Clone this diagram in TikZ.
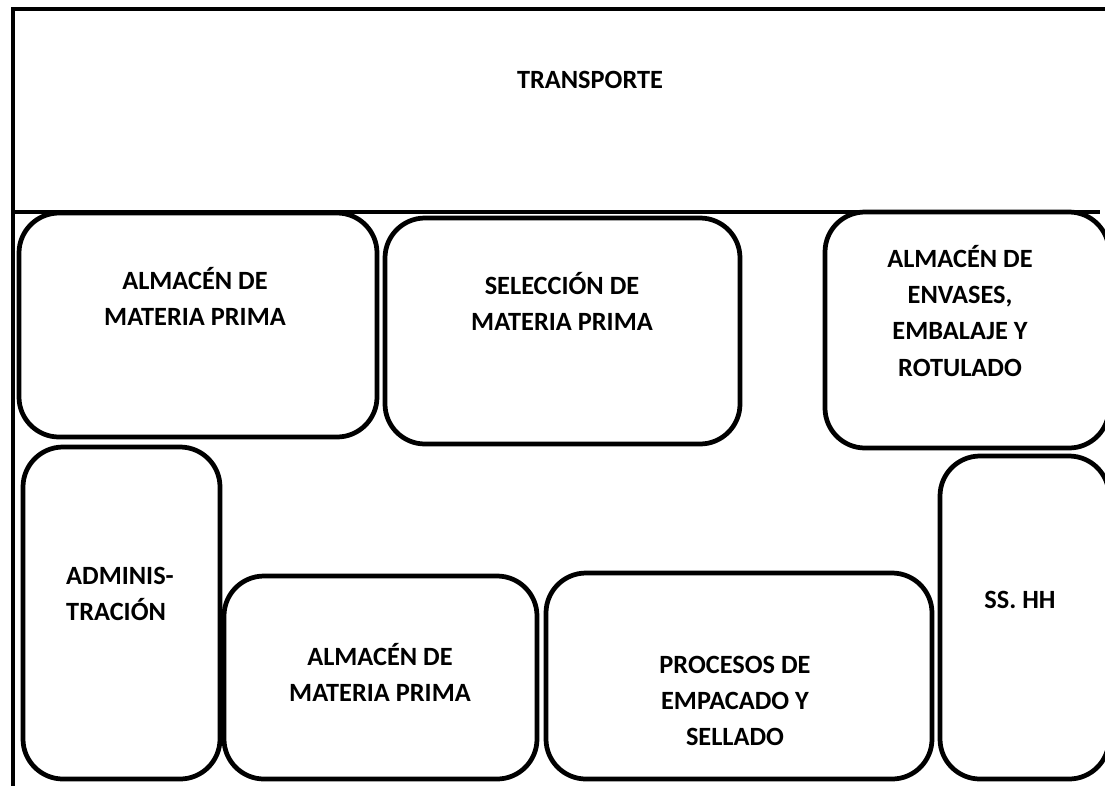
\documentclass[tikz,border=0pt]{standalone}
\usepackage{fontspec}
\setmainfont{Carlito}

\begin{document}
\begin{tikzpicture}[x=0.02cm,y=-0.02cm,
    room/.style={line width=2.7pt,rounded corners=0.8cm},
    wall/.style={line width=2.7pt},
    roomlabel/.style={font=\fontsize{15}{20.5}\selectfont\bfseries,align=center}]
  \useasboundingbox (0,0) rectangle (1105,785);
  \clip (0,0) rectangle (1105,785);
  % outer walls
  \draw[wall] (1110,9) -- (13,9) -- (13,790);
  \draw[wall] (13,212) -- (1100,212);
  % rooms
  \draw[room] (19,213) rectangle (377,437);
  \draw[room] (385,218) rectangle (740,444);
  \draw[room] (825,212) rectangle (1109,448);
  \draw[room] (23,447) rectangle (220,779);
  \draw[room] (224,576) rectangle (537,779);
  \draw[room] (546,573) rectangle (932,779);
  \draw[room] (940,456) rectangle (1109,779);
  % labels
  \node[roomlabel] (trans) at (590,80) {TRANSPORTE};
  \node[roomlabel] (almmp) at (195,296) {ALMACÉN DE\\MATERIA PRIMA};
  \node[roomlabel] (selec) at (562,301) {SELECCIÓN DE\\MATERIA PRIMA};
  \node[roomlabel] (envas) at (960,311) {ALMACÉN DE\\ENVASES,\\EMBALAJE Y\\ROTULADO};
  \node[roomlabel,align=left,anchor=west] (admin) at (60,594) {ADMINIS-\\TRACIÓN};
  \node[roomlabel] (almmp2) at (380,672) {ALMACÉN DE\\MATERIA PRIMA};
  \node[roomlabel] (proce) at (735,701) {PROCESOS DE\\EMPACADO Y\\SELLADO};
  \node[roomlabel] (sshh) at (1020,600) {SS. HH};
\end{tikzpicture}
\end{document}
